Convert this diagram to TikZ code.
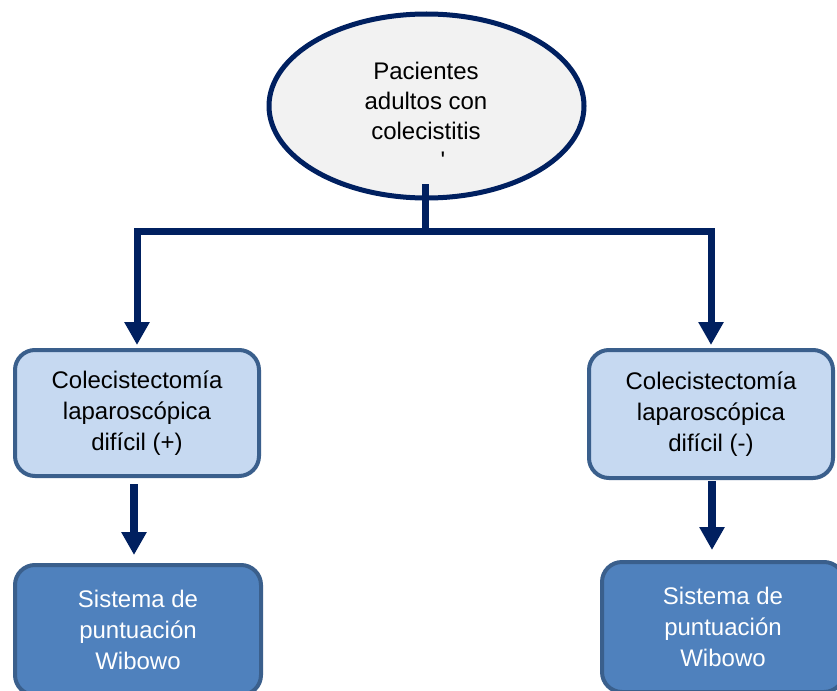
\documentclass[tikz,border=0pt]{standalone}
\usepackage{fontspec}
\setmainfont{Liberation Sans}
\usetikzlibrary{arrows.meta,calc,shapes.geometric}
\definecolor{navy}{HTML}{002060}
\definecolor{ellfill}{HTML}{F2F2F2}
\definecolor{boxborder}{HTML}{3A5F8C}
\definecolor{lightfill}{HTML}{C6D9F1}
\definecolor{darkfill}{HTML}{4F81BD}
\begin{document}
\begin{tikzpicture}[x=1pt,y=1pt,
  txt/.style={font=\fontsize{24}{31}\selectfont, align=center},
  ellnode/.style={ellipse, draw=navy, line width=5pt, fill=ellfill, inner sep=0pt, outer sep=0pt},
  lightbox/.style={rectangle, rounded corners=20pt, draw=boxborder, line width=4pt, fill=lightfill, inner sep=0pt, outer sep=0pt, txt},
  darkbox/.style={rectangle, rounded corners=20pt, draw=boxborder, line width=4pt, fill=darkfill, text=white, inner sep=0pt, outer sep=0pt, txt},
  conn/.style={draw=navy, line width=7pt},
  arr/.style={draw=navy, line width=7pt, -{Triangle[width=24pt,length=23pt]}},
  arrsmall/.style={draw=navy, line width=7.5pt, -{Triangle[width=24pt,length=23pt]}}
]
\useasboundingbox (0,0) rectangle (837,-690);
\fill[white] (0,0) rectangle (837,-690);
\clip (0,0) rectangle (837,-690);

% top ellipse
\node[ellnode, minimum width=315pt, minimum height=184pt] (e) at (426.5,-106) {};
\node[txt, font=\fontsize{24}{30}\selectfont] (t) at (426,-101) {Pacientes\\adultos con\\colecistitis};
\node[inner sep=0pt, font=\fontsize{24}{30}\selectfont] (tk) at (443,-160) {\addfontfeatures{Ligatures=TeXOff}'};

% boxes
\node[lightbox, minimum width=244pt, minimum height=126pt] (b1) at (137,-413) {Colecistectomía\\laparoscópica\\difícil (+)};
\node[lightbox, minimum width=244pt, minimum height=128pt] (b2) at (711,-414) {Colecistectomía\\laparoscópica\\difícil (-)};
\node[darkbox, minimum width=246pt, minimum height=130pt] (c1) at (138,-630) {Sistema de\\puntuación\\Wibowo};
\node[darkbox, minimum width=242pt, minimum height=130pt] (c2) at (723,-627) {Sistema de\\puntuación\\Wibowo};

% connectors
\coordinate (j) at ([xshift=-1pt]e.south |- 0,-231);
\draw[conn] ([xshift=-1pt,yshift=14pt]e.south) -- (j);
\draw[arr, shorten >=5pt] (j) -| (b1.north);
\draw[arr, shorten >=5pt] (j) -| (b2.north);
\draw[arrsmall, shorten <=8pt, shorten >=10pt] ([xshift=-3pt]b1.south) -- ([xshift=-4pt]c1.north);
\draw[arrsmall, shorten <=3pt, shorten >=12pt] ([xshift=1pt]b2.south) -- ([xshift=-11pt]c2.north);
\end{tikzpicture}
\end{document}
